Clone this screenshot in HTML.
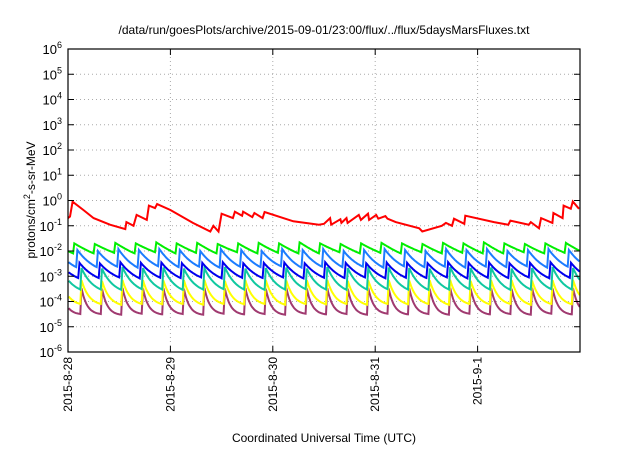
<!DOCTYPE html>
<html><head><meta charset="utf-8"><style>
body{margin:0;background:#fff;font-family:"Liberation Sans",sans-serif}
svg text{font-family:"Liberation Sans",sans-serif;fill:#000}
</style></head><body>
<svg id="c" width="640" height="448"></svg>
<script>
const xTickLabels=["2015-8-28","2015-8-29","2015-8-30","2015-8-31","2015-9-1"];
const yExponents=[-6,-5,-4,-3,-2,-1,0,1,2,3,4,5,6];
const redT=[0,0.02,0.045,0.15,0.25,0.41,0.56,0.57,0.64,0.67,0.77,0.79,0.85,0.87,1.0,1.22,1.39,1.42,1.47,1.5,1.61,1.63,1.7,1.71,1.8,1.82,1.9,1.92,2.2,2.45,2.5,2.56,2.57,2.66,2.67,2.72,2.73,2.84,2.86,2.93,2.94,3.01,3.03,3.1,3.12,3.2,3.43,3.46,3.65,3.69,3.75,3.77,3.87,3.88,4.16,4.3,4.32,4.5,4.52,4.6,4.62,4.73,4.74,4.83,4.84,4.91,4.93,4.99];
const redV=[0.2,0.23,0.9,0.42,0.2,0.11,0.074,0.14,0.1,0.27,0.17,0.63,0.5,0.72,0.42,0.13,0.059,0.1,0.059,0.3,0.2,0.36,0.25,0.36,0.22,0.32,0.2,0.35,0.15,0.11,0.12,0.2,0.11,0.18,0.13,0.2,0.13,0.27,0.17,0.3,0.17,0.27,0.19,0.24,0.19,0.14,0.079,0.059,0.1,0.13,0.1,0.19,0.12,0.25,0.14,0.11,0.16,0.11,0.14,0.079,0.2,0.13,0.32,0.2,0.63,0.47,0.91,0.47];
const seriesNames=["green-channel","light-blue-channel","blue-channel","teal-channel","yellow-channel","purple-channel"];
const greenPeaks=[0.02,0.019,0.021,0.02,0.022,0.02,0.021,0.019,0.02,0.021,0.02,0.022,0.02,0.019,0.02,0.021,0.02,0.019,0.021,0.02,0.022,0.02,0.019,0.02,0.021,0.02];
const greenTroughs=[0.008,0.0085,0.008,0.009,0.008,0.0085,0.008,0.009,0.008,0.0085,0.008,0.008,0.009,0.008,0.0085,0.008,0.009,0.008,0.0085,0.008,0.008,0.009,0.008,0.0085,0.008,0.008];
const lblPeaks=[0.011,0.01,0.012,0.011,0.012,0.011,0.01,0.012,0.011,0.01,0.012,0.011,0.012,0.01,0.011,0.012,0.011,0.01,0.012,0.011,0.012,0.01,0.011,0.012,0.011,0.01];
const lblTroughs=[0.0023,0.0024,0.0022,0.0025,0.0023,0.0024,0.0022,0.0024,0.0023,0.0025,0.0022,0.0024,0.0023,0.0024,0.0022,0.0025,0.0023,0.0024,0.0022,0.0024,0.0023,0.0025,0.0022,0.0024,0.0023,0.0024];
const bluePeaks=[0.0034,0.0032,0.0036,0.0034,0.0035,0.0033,0.0034,0.0036,0.0033,0.0034,0.0035,0.0033,0.0036,0.0034,0.0033,0.0035,0.0034,0.0033,0.0036,0.0034,0.0035,0.0033,0.0034,0.0036,0.0034,0.0033];
const blueTroughs=[0.00085,0.0009,0.00082,0.00088,0.00085,0.0009,0.00083,0.00087,0.00085,0.0009,0.00082,0.00088,0.00085,0.0009,0.00083,0.00087,0.00085,0.0009,0.00082,0.00088,0.00085,0.0009,0.00083,0.00087,0.00085,0.0009];
const tealPeaks=[0.0021,0.002,0.0023,0.0021,0.0022,0.002,0.0021,0.0023,0.002,0.0021,0.0022,0.002,0.0023,0.0021,0.002,0.0022,0.0021,0.002,0.0023,0.0021,0.0022,0.002,0.0021,0.0023,0.0021,0.002];
const tealTroughs=[0.0003,0.00029,0.00031,0.0003,0.00029,0.0003,0.00031,0.0003,0.00029,0.0003,0.00031,0.0003,0.00029,0.0003,0.00031,0.0003,0.00029,0.0003,0.00031,0.0003,0.00029,0.0003,0.00031,0.0003,0.00029,0.0003];
const yelPeaks=[0.0007,0.00065,0.00072,0.0007,0.00068,0.0007,0.00072,0.00066,0.0007,0.00071,0.00068,0.0007,0.00072,0.00066,0.0007,0.00071,0.00068,0.0007,0.00072,0.00066,0.0007,0.00071,0.00068,0.0007,0.00072,0.0007];
const yelTroughs=[0.00008,0.000075,0.00008,0.000078,0.00008,0.000075,0.00008,0.000078,0.00008,0.000075,0.00008,0.000078,0.00008,0.000075,0.00008,0.000078,0.00008,0.000075,0.00008,0.000078,0.00008,0.000075,0.00008,0.000078,0.00008,0.000075];
const purPeaks=[0.00034,0.00032,0.00035,0.00033,0.00034,0.00032,0.00035,0.00033,0.00034,0.00032,0.00035,0.00033,0.00034,0.00032,0.00035,0.00033,0.00034,0.00032,0.00035,0.00033,0.00034,0.00032,0.00035,0.00033,0.00034,0.00032];
const purTroughs=[0.000032,0.00003,0.000033,0.000031,0.000032,0.00003,0.000033,0.000031,0.000032,0.00003,0.000033,0.000031,0.000032,0.00003,0.000033,0.000031,0.000032,0.00003,0.000033,0.000031,0.000032,0.00003,0.000033,0.000031,0.000032,0.00003];
const cyclePeriod=0.2;

const NS="http://www.w3.org/2000/svg";
const svg=document.getElementById('c');
const L=68,R=580,T=49,B=352,days=5;
const xs=t=>L+t/days*(R-L);
const ys=v=>B-(Math.log10(v)+6)/12*(B-T);
function el(tag,attrs,parent){const e=document.createElementNS(NS,tag);for(const k in attrs)e.setAttribute(k,attrs[k]);(parent||svg).appendChild(e);return e;}

const grid=el('g',{});


yExponents.forEach(e=>{if(e>-6&&e<6){const l=el('line',{x1:L,x2:R,y1:ys(Math.pow(10,e)),y2:ys(Math.pow(10,e)),stroke:'#aaa','stroke-dasharray':'1,3','stroke-width':1},grid);

}});
xTickLabels.forEach((s,i)=>{if(i>0){const l=el('line',{x1:xs(i),x2:xs(i),y1:T,y2:B,stroke:'#aaa','stroke-dasharray':'1,3','stroke-width':1},grid);

}});

const sets=[[greenPeaks,greenTroughs,'#00ee00',0.05,0.3],[lblPeaks,lblTroughs,'#1c7cff',0.08,1.0],[bluePeaks,blueTroughs,'#0000ee',0.1,1.0],[tealPeaks,tealTroughs,'#10c8a0',0.12,1.6],[yelPeaks,yelTroughs,'#ffff00',0.12,2.5],[purPeaks,purTroughs,'#a03a70',0.12,3.5]];
sets.slice().reverse().forEach((s,ri)=>{
 const idx=sets.length-1-ri;
 const [pk,tr,col,ph,k]=s;
 let pts=[];
 for(let c=-1;c<pk.length;c++){
  const t0=ph+c*cyclePeriod;
  const p=pk[Math.max(c,0)],q=tr[Math.max(c,0)];
  const lp=Math.log10(p),lq=Math.log10(q);
  for(let j=0;j<=20;j++){
   const f=j/20, t=t0+0.012+f*(cyclePeriod-0.012);
   const w=(Math.exp(-k*f)-Math.exp(-k))/(1-Math.exp(-k));
   if(t>=0&&t<=days)pts.push([xs(t),B-(lq+(lp-lq)*w+6)/12*(B-T)]);
  }
 }
 const path=el('polyline',{points:pts.map(p=>p[0].toFixed(1)+','+p[1].toFixed(1)).join(' '),fill:'none',stroke:col,'stroke-width':2,'stroke-linejoin':'miter'});
 
 
});
const red=el('polyline',{points:redT.map((t,i)=>xs(t).toFixed(1)+','+ys(redV[i]).toFixed(1)).join(' '),fill:'none',stroke:'#ff0000','stroke-width':2});



const fr=el('rect',{x:L,y:T,width:R-L,height:B-T,fill:'none',stroke:'#000','stroke-width':1.2});


yExponents.forEach(e=>{
 const y=ys(Math.pow(10,e));
 el('line',{x1:L,x2:L+6,y1:y,y2:y,stroke:'#000'});
 el('line',{x1:R-6,x2:R,y1:y,y2:y,stroke:'#000'});
 const t=el('text',{x:62,y:y+5,'text-anchor':'end','font-size':13});
 
 
 t.textContent='10';
 const s=el('tspan',{dy:-6,'font-size':9},t);s.textContent=String(e);
});
xTickLabels.forEach((s,i)=>{
 const x=xs(i);
 el('line',{x1:x,x2:x,y1:B-6,y2:B,stroke:'#000'});
 el('line',{x1:x,x2:x,y1:T,y2:T+6,stroke:'#000'});
 const t=el('text',{x:0,y:0,'text-anchor':'end','font-size':12,transform:`translate(${x+4},${B+5}) rotate(-90)`});
 
 
 t.textContent=s;
});
const title=el('text',{x:324,y:34,'text-anchor':'middle','font-size':12});


title.textContent='/data/run/goesPlots/archive/2015-09-01/23:00/flux/../flux/5daysMarsFluxes.txt';
const xt=el('text',{x:324,y:442,'text-anchor':'middle','font-size':12});


xt.textContent='Coordinated Universal Time (UTC)';
const yt=el('text',{x:0,y:0,'text-anchor':'middle','font-size':12,transform:'translate(35,200) rotate(-90)'});


yt.textContent='protons/cm';
const sp=el('tspan',{dy:-5,'font-size':9},yt);sp.textContent='2';
const sp2=el('tspan',{dy:5},yt);sp2.textContent='-s-sr-MeV';
</script>
</body></html>
